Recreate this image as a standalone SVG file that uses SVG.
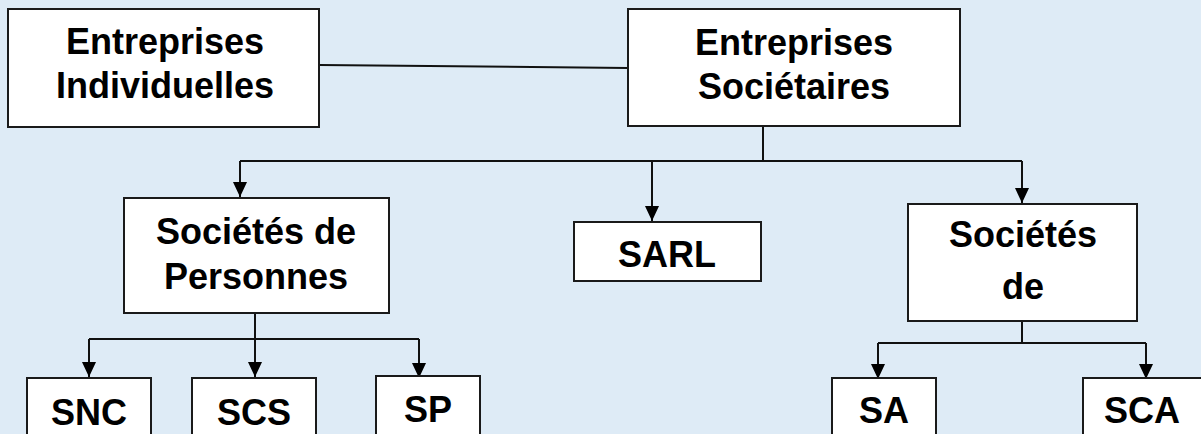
<svg xmlns="http://www.w3.org/2000/svg" width="1201" height="434" viewBox="0 0 1201 434">
  <style>
    .box { fill: #ffffff; stroke: #1a1a1a; stroke-width: 2; }
    .lbl { font-family: "Liberation Sans", Arial, sans-serif; font-weight: bold; font-size: 36px; fill: #000000; text-anchor: middle; }
    .wire { fill: none; stroke: #111111; stroke-width: 2; }
  </style>
  <defs>
    <marker id="arrow" markerUnits="userSpaceOnUse" markerWidth="16" markerHeight="16" refX="15" refY="7" orient="auto">
      <path d="M0,0 L15,7 L0,14 z" fill="#000000"/>
    </marker>
  </defs>
  <rect x="0" y="0" width="1201" height="434" fill="#DEEBF6"/>

  <g id="connectors">
    <line class="wire" x1="320" y1="65" x2="628" y2="68"/>
    <polyline class="wire" points="763,126 763,161"/>
    <polyline class="wire" points="240,161 1022,161"/>
    <line class="wire" x1="240" y1="161" x2="240" y2="197" marker-end="url(#arrow)"/>
    <line class="wire" x1="652" y1="161" x2="652" y2="221" marker-end="url(#arrow)"/>
    <line class="wire" x1="1022" y1="161" x2="1022" y2="203" marker-end="url(#arrow)"/>
    <polyline class="wire" points="255,313 255,339"/>
    <polyline class="wire" points="89,339 419,339"/>
    <line class="wire" x1="89" y1="339" x2="89" y2="377" marker-end="url(#arrow)"/>
    <line class="wire" x1="255" y1="339" x2="255" y2="377" marker-end="url(#arrow)"/>
    <line class="wire" x1="419" y1="339" x2="419" y2="378" marker-end="url(#arrow)"/>
    <polyline class="wire" points="1022,321 1022,343"/>
    <polyline class="wire" points="878,343 1146,343"/>
    <line class="wire" x1="878" y1="343" x2="878" y2="379" marker-end="url(#arrow)"/>
    <line class="wire" x1="1146" y1="343" x2="1146" y2="379" marker-end="url(#arrow)"/>
  </g>

  <g id="entreprises-individuelles">
    <rect class="box" x="8" y="9" width="311" height="118"/>
    <text class="lbl" x="165" y="54">Entreprises</text>
    <text class="lbl" x="165" y="98">Individuelles</text>
  </g>
  <g id="entreprises-societaires">
    <rect class="box" x="628" y="9" width="332" height="117"/>
    <text class="lbl" x="794" y="55">Entreprises</text>
    <text class="lbl" x="794" y="99">Sociétaires</text>
  </g>
  <g id="societes-personnes">
    <rect class="box" x="124" y="198" width="265" height="115"/>
    <text class="lbl" x="256" y="244">Sociétés de</text>
    <text class="lbl" x="256" y="289">Personnes</text>
  </g>
  <g id="sarl">
    <rect class="box" x="574" y="222" width="187" height="59"/>
    <text class="lbl" x="667" y="267">SARL</text>
  </g>
  <g id="societes-capitaux">
    <rect class="box" x="908" y="204" width="229" height="117"/>
    <text class="lbl" x="1023" y="247">Sociétés</text>
    <text class="lbl" x="1023" y="299">de</text>
  </g>
  <g id="snc">
    <rect class="box" x="27" y="378" width="124" height="70"/>
    <text class="lbl" x="89" y="425">SNC</text>
  </g>
  <g id="scs">
    <rect class="box" x="192" y="378" width="124" height="70"/>
    <text class="lbl" x="254" y="425">SCS</text>
  </g>
  <g id="sp">
    <rect class="box" x="376" y="376" width="104" height="72"/>
    <text class="lbl" x="428" y="422">SP</text>
  </g>
  <g id="sa">
    <rect class="box" x="832" y="378" width="104" height="70"/>
    <text class="lbl" x="884" y="423">SA</text>
  </g>
  <g id="sca">
    <rect class="box" x="1083" y="378" width="130" height="70"/>
    <text class="lbl" x="1142" y="423">SCA</text>
  </g>
</svg>
